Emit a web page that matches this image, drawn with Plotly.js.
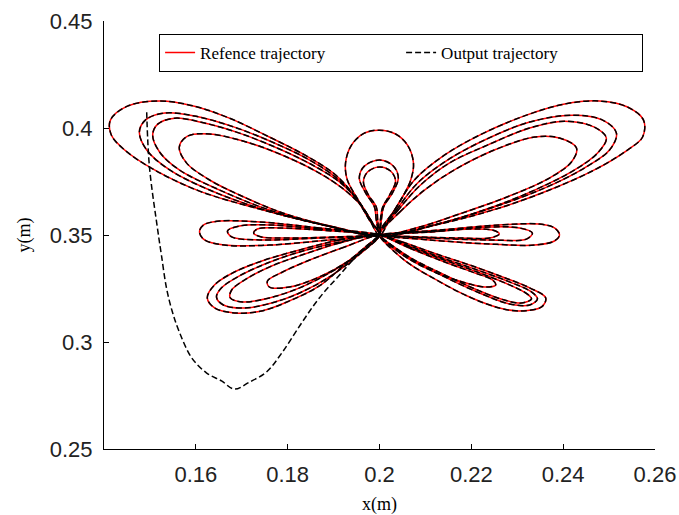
<!DOCTYPE html>
<html>
<head>
<meta charset="utf-8">
<script src="https://cdn.plot.ly/plotly-3.0.1.min.js"></script>
<style>html,body{margin:0;padding:0;background:#fff;}#chart{width:679px;height:515px;}</style>
</head>
<body>
<div id="chart"></div>
<script>
// ---- Reference trajectory (m), one sub-array per loop ----
const upperLeftX = [
  [0.2,0.1978,0.1946,0.1902,0.1837,0.1760,0.1673,0.1597,0.1521,0.1451,0.1414,0.1416,0.1445,0.1510,0.1608,0.1739,0.1869,0.2],
  [0.2,0.1980,0.1950,0.1909,0.1848,0.1771,0.1684,0.1597,0.1532,0.1490,0.1477,0.1493,0.1543,0.1630,0.1750,0.1880,0.2],
  [0.2,0.1983,0.1954,0.1913,0.1854,0.1782,0.1695,0.1619,0.1554,0.1517,0.1506,0.1521,0.1564,0.1652,0.1760,0.1887,0.2],
  [0.2,0.1985,0.1959,0.1919,0.1865,0.1793,0.1717,0.1630,0.1582,0.1564,0.1580,0.1630,0.1695,0.1789,0.1902,0.2]
];
const upperLeftY = [
  [0.35,0.3570,0.3682,0.3785,0.3874,0.3958,0.4046,0.4102,0.4126,0.4102,0.4037,0.3967,0.3897,0.3804,0.3705,0.3621,0.3551,0.35],
  [0.35,0.3565,0.3668,0.3762,0.3850,0.3930,0.4004,0.4056,0.4070,0.4037,0.3981,0.3897,0.3804,0.3710,0.3617,0.3547,0.35],
  [0.35,0.3561,0.3659,0.3748,0.3827,0.3902,0.3976,0.4023,0.4046,0.4018,0.3967,0.3888,0.3804,0.3710,0.3617,0.3542,0.35],
  [0.35,0.3556,0.3640,0.3719,0.3794,0.3869,0.3930,0.3972,0.3962,0.3911,0.3836,0.3757,0.3687,0.3603,0.3537,0.35]
];
const upperRightX = [
  [0.2,0.2033,0.2076,0.2142,0.2218,0.2320,0.2403,0.2479,0.2540,0.2575,0.2573,0.2540,0.2468,0.2370,0.2261,0.2131,0.2],
  [0.2,0.2037,0.2083,0.2148,0.2229,0.2327,0.2420,0.2486,0.2516,0.2501,0.2446,0.2359,0.2250,0.2126,0.2],
  [0.2,0.2039,0.2087,0.2152,0.2235,0.2327,0.2403,0.2468,0.2494,0.2475,0.2425,0.2338,0.2240,0.2120,0.2],
  [0.2,0.2044,0.2098,0.2163,0.2250,0.2338,0.2392,0.2429,0.2418,0.2370,0.2283,0.2174,0.2087,0.2]
];
const upperRightY = [
  [0.35,0.3617,0.3757,0.3874,0.3967,0.4060,0.4112,0.4126,0.4098,0.4037,0.3958,0.3897,0.3804,0.3710,0.3626,0.3551,0.35],
  [0.35,0.3617,0.3743,0.3850,0.3944,0.4028,0.4060,0.4037,0.3976,0.3897,0.3813,0.3719,0.3631,0.3551,0.35],
  [0.35,0.3612,0.3729,0.3836,0.3920,0.4000,0.4032,0.4004,0.3953,0.3883,0.3804,0.3710,0.3626,0.3547,0.35],
  [0.35,0.3607,0.3710,0.3804,0.3897,0.3958,0.3953,0.3906,0.3841,0.3766,0.3682,0.3598,0.3537,0.35]
];
const middleLeftX = [
  [0.2,0.1869,0.1739,0.1652,0.1617,0.1608,0.1619,0.1662,0.1760,0.1891,0.2],
  [0.2,0.1869,0.1760,0.1695,0.1669,0.1678,0.1739,0.1869,0.2],
  [0.2,0.1869,0.1782,0.1734,0.1726,0.1743,0.1804,0.1902,0.2]
];
const middleLeftY = [
  [0.35,0.3533,0.3561,0.3565,0.3547,0.3514,0.3477,0.3453,0.3453,0.3477,0.35],
  [0.35,0.3528,0.3547,0.3542,0.3519,0.3491,0.3477,0.3486,0.35],
  [0.35,0.3523,0.3533,0.3528,0.3509,0.3491,0.3486,0.3491,0.35]
];
const middleRightX = [
  [0.2,0.2131,0.2261,0.2348,0.2381,0.2392,0.2381,0.2338,0.2240,0.2109,0.2],
  [0.2,0.2131,0.2240,0.2305,0.2333,0.2320,0.2240,0.2109,0.2],
  [0.2,0.2109,0.2196,0.2246,0.2261,0.2240,0.2174,0.2087,0.2]
];
const middleRightY = [
  [0.35,0.3523,0.3547,0.3551,0.3533,0.35,0.3472,0.3453,0.3458,0.3477,0.35],
  [0.35,0.3519,0.3537,0.3533,0.3509,0.3481,0.3477,0.3486,0.35],
  [0.35,0.3514,0.3528,0.3523,0.3505,0.3486,0.3486,0.3491,0.35]
];
const lowerLeftX = [
  [0.2,0.1913,0.1826,0.1750,0.1684,0.1641,0.1625,0.1641,0.1684,0.1743,0.1804,0.1869,0.1928,0.1974,0.2],
  [0.2,0.1913,0.1826,0.1756,0.1695,0.1656,0.1645,0.1660,0.1706,0.1765,0.1826,0.1891,0.1952,0.2],
  [0.2,0.1913,0.1837,0.1765,0.1710,0.1678,0.1675,0.1702,0.1760,0.1826,0.1891,0.1952,0.2],
  [0.2,0.1924,0.1848,0.1789,0.1756,0.1760,0.1804,0.1869,0.1935,0.2]
];
const lowerLeftY = [
  [0.35,0.3477,0.3430,0.3383,0.3327,0.3267,0.3206,0.3159,0.3136,0.3145,0.3192,0.3262,0.3369,0.3453,0.35],
  [0.35,0.3467,0.3421,0.3369,0.3309,0.3253,0.3210,0.3173,0.3159,0.3182,0.3229,0.3304,0.3402,0.35],
  [0.35,0.3463,0.3411,0.3355,0.3295,0.3243,0.3206,0.3187,0.3206,0.3253,0.3323,0.3407,0.35],
  [0.35,0.3444,0.3383,0.3327,0.3285,0.3257,0.3257,0.3304,0.3383,0.35]
];
const lowerRightX = [
  [0.2,0.2050,0.2124,0.2196,0.2268,0.2327,0.2362,0.2353,0.2305,0.2261,0.2196,0.2124,0.2054,0.2],
  [0.2,0.2054,0.2131,0.2207,0.2283,0.2331,0.2344,0.2327,0.2283,0.2218,0.2142,0.2065,0.2],
  [0.2,0.2059,0.2135,0.2213,0.2283,0.2322,0.2331,0.2309,0.2272,0.2213,0.2142,0.2065,0.2],
  [0.2,0.2065,0.2142,0.2207,0.2246,0.2253,0.2229,0.2174,0.2109,0.2044,0.2]
];
const lowerRightY = [
  [0.35,0.3467,0.3411,0.3360,0.3304,0.3253,0.3206,0.3164,0.3145,0.3159,0.3210,0.3290,0.3383,0.35],
  [0.35,0.3458,0.3397,0.3341,0.3281,0.3234,0.3201,0.3173,0.3178,0.3229,0.3304,0.3393,0.35],
  [0.35,0.3449,0.3388,0.3327,0.3267,0.3224,0.3201,0.3182,0.3196,0.3243,0.3313,0.3397,0.35],
  [0.35,0.3439,0.3374,0.3323,0.3290,0.3267,0.3257,0.3285,0.3337,0.3416,0.35]
];
const topX = [
  [0.2,0.1974,0.1950,0.1930,0.1926,0.1939,0.1967,0.2,0.2035,0.2061,0.2074,0.2068,0.2050,0.2026,0.2],
  [0.2,0.1993,0.1989,0.1970,0.1956,0.1967,0.2,0.2030,0.2041,0.2028,0.2009,0.2004,0.2],
  [0.2,0.1996,0.1993,0.1976,0.1965,0.1974,0.2,0.2024,0.2035,0.2022,0.2007,0.2002,0.2]
];
const topY = [
  [0.35,0.3593,0.3677,0.3757,0.3836,0.3920,0.3976,0.3990,0.3972,0.3920,0.3836,0.3757,0.3677,0.3593,0.35],
  [0.35,0.3570,0.3631,0.3696,0.3766,0.3822,0.3850,0.3822,0.3766,0.3696,0.3631,0.3570,0.35],
  [0.35,0.3570,0.3631,0.3687,0.3748,0.3794,0.3818,0.3799,0.3752,0.3687,0.3631,0.3570,0.35]
];
// ---- Output trajectory: initial transient, then it tracks the reference loops ----
const transientX = [0.1493,0.1499,0.1517,0.1525,0.1536,0.1549,0.1564,0.1591,0.1623,0.1656,0.1684,0.1717,0.1754,0.1789,0.1832,0.1869,0.1913,0.1956,0.2];
const transientY = [0.4074,0.3818,0.3523,0.3407,0.3253,0.3140,0.3047,0.2926,0.2856,0.2818,0.2780,0.2813,0.2860,0.2954,0.3094,0.3206,0.3313,0.3416,0.35];

const xTicks = [0.16,0.18,0.2,0.22,0.24,0.26];
const xTickText = ['0.16','0.18','0.2','0.22','0.24','0.26'];
const yTicks = [0.25,0.3,0.35,0.4,0.45];
const yTickText = ['0.25','0.3','0.35','0.4','0.45'];

function join(groups){
  const out = [];
  groups.forEach(g => g.forEach(loop => { if (out.length) out.push(null); loop.forEach(v => out.push(v)); }));
  return out;
}
const refX = join([upperLeftX, middleLeftX, lowerLeftX, topX, upperRightX, middleRightX, lowerRightX]);
const refY = join([upperLeftY, middleLeftY, lowerLeftY, topY, upperRightY, middleRightY, lowerRightY]);
const outX = join([[transientX], upperLeftX, middleLeftX, lowerLeftX, topX, upperRightX, middleRightX, lowerRightX]);
const outY = join([[transientY], upperLeftY, middleLeftY, lowerLeftY, topY, upperRightY, middleRightY, lowerRightY]);

const traces = [
  {x: refX, y: refY, type: 'scatter', mode: 'lines', name: 'Refence trajectory',
   line: {color: '#ff0000', width: 1.5, shape: 'spline', smoothing: 1}, connectgaps: false},
  {x: outX, y: outY, type: 'scatter', mode: 'lines', name: 'Output trajectory',
   line: {color: '#000000', width: 1.5, dash: '6px,3px', shape: 'spline', smoothing: 1}, connectgaps: false}
];

const axisCommon = {
  showgrid: false, zeroline: false, showline: true, linecolor: '#000', linewidth: 1,
  ticks: 'inside', ticklen: 5, tickcolor: '#000', tickwidth: 1, mirror: false,
  tickfont: {family: 'Liberation Sans, Arial, sans-serif', size: 22, color: '#222'}
};

const layout = {
  width: 679, height: 515,
  paper_bgcolor: '#fff', plot_bgcolor: '#fff',
  margin: {l: 104, r: 24, t: 21, b: 66},
  showlegend: true,
  legend: {
    x: 0.1, y: 0.97, xanchor: 'left', yanchor: 'top', orientation: 'h',
    entrywidth: 196, entrywidthmode: 'pixels',
    bgcolor: '#fff', bordercolor: '#000', borderwidth: 1,
    font: {family: 'Liberation Serif, Times New Roman, serif', size: 17, color: '#000'}
  },
  xaxis: Object.assign({}, axisCommon, {
    range: [0.14, 0.26], tickmode: 'array', tickvals: xTicks, ticktext: xTickText,
    ticklabelstandoff: 6,
    title: {text: 'x(m)', standoff: 12, font: {family: 'Liberation Serif, Times New Roman, serif', size: 18, color: '#000'}}
  }),
  yaxis: Object.assign({}, axisCommon, {
    range: [0.25, 0.45], tickmode: 'array', tickvals: yTicks, ticktext: yTickText,
    ticklabelstandoff: 6,
    title: {text: 'y(m)', standoff: 14, font: {family: 'Liberation Serif, Times New Roman, serif', size: 18, color: '#000'}}
  })
};

Plotly.newPlot('chart', traces, layout, {displayModeBar: false, staticPlot: true});
</script>
</body>
</html>
